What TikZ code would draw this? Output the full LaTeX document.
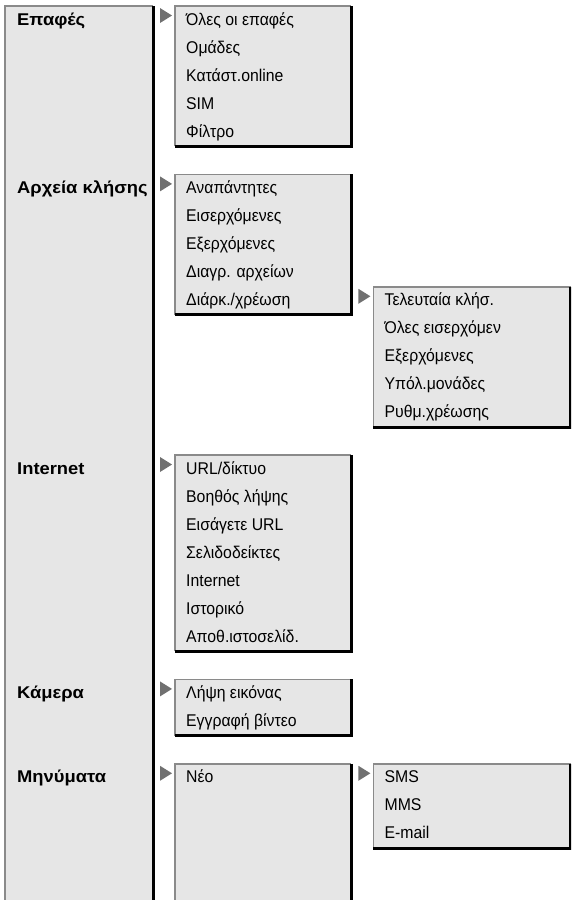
\documentclass[tikz,border=0pt]{standalone}
\usepackage{fontspec}
\setmainfont{Liberation Sans}[FakeStretch=0.93, BoldFeatures={FakeStretch=1.08}]
\usetikzlibrary{positioning}
\definecolor{menubg}{HTML}{E6E6E6}
\definecolor{rimgray}{HTML}{8A8A8A}
\definecolor{tipgray}{HTML}{707070}

\begin{document}
\begin{tikzpicture}[x=1pt, y=-1pt, font=\fontsize{17}{20}\selectfont,
  menubox/.style={fill=menubg, inner sep=0pt, anchor=north west, minimum width=176pt},
  entry/.style={anchor=base west, inner sep=0pt},
  toplabel/.style={anchor=base west, inner sep=0pt, font=\fontsize{17}{20}\selectfont\bfseries},
  pointer/.style={fill=tipgray}]
  \useasboundingbox (0,0) rectangle (571,900);
  \clip (0,0) rectangle (571,900);
  % boxes
  \node[menubox, minimum width=148pt, minimum height=904pt] (menu) at (5,6) {};
  \node[menubox, minimum height=140pt] (contacts) at (175,6) {};
  \node[menubox, minimum height=140pt, below=28pt of contacts.south west, anchor=north west] (calls) {};
  \node[menubox, minimum width=197pt, minimum height=140pt] (duration) at ([xshift=22pt, yshift=28pt]calls.south east) {};
  \node[menubox, minimum height=196pt] (internet) at (175,455) {};
  \node[menubox, minimum height=56pt, below=28pt of internet.south west, anchor=north west] (camera) {};
  \node[menubox, minimum height=150pt, below=28pt of camera.south west, anchor=north west] (messages) {};
  \node[menubox, minimum width=197pt, minimum height=84pt] (newmsg) at ([xshift=22pt]messages.north east) {};
  \foreach \b in {menu,contacts,calls,duration,internet,camera,messages,newmsg} {
    \draw[rimgray, line width=1.4pt] (\b.south west) |- (\b.north east);
    \draw[line width=3pt] (\b.north east) |- (\b.south west);
  }
  % entries
  \foreach \b/\entries in {contacts/{Όλες οι επαφές,Ομάδες,Κατάστ.online,SIM,Φίλτρο},
      calls/{Αναπάντητες,Εισερχόμενες,Εξερχόμενες,Διαγρ. αρχείων,Διάρκ./χρέωση},
      duration/{Τελευταία κλήσ.,Όλες εισερχόμεν,Εξερχόμενες,Υπόλ.μονάδες,Ρυθμ.χρέωσης},
      internet/{URL/δίκτυο,Βοηθός λήψης,Εισάγετε URL,Σελιδοδείκτες,Internet,Ιστορικό,Αποθ.ιστοσελίδ.},
      camera/{Λήψη εικόνας,Εγγραφή βίντεο},
      messages/{Νέο},
      newmsg/{SMS,MMS,E-mail}}
    \foreach \t [count=\i] in \entries
      \node[entry] (\b-\i) at ([xshift=11pt, yshift={-19pt-28pt*(\i-1)}]\b.north west) {\t};
  \foreach \b/\t in {contacts/Επαφές, calls/Αρχεία κλήσης, internet/Internet, camera/Κάμερα, messages/Μηνύματα}
    \node[toplabel, xshift=12pt] (l\b) at (menu.west |- \b-1.base) {\t};
  % pointers
  \foreach \b in {contacts,calls,duration,internet,camera,messages,newmsg}
    \fill[pointer] ([xshift=-15pt, yshift=-2pt]\b.north west) -- ++(0pt,-15pt) -- ++(12pt,7.5pt) -- cycle;
\end{tikzpicture}
\end{document}
